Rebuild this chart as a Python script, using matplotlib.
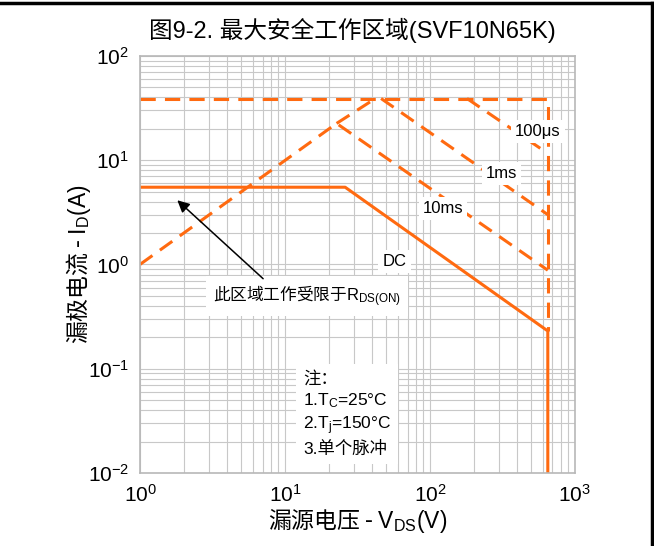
import matplotlib.pyplot as plt
from matplotlib.lines import Line2D

plt.rcParams['font.family'] = ['Liberation Sans', 'Noto Sans CJK SC']
plt.rcParams['mathtext.fontset'] = 'custom'
plt.rcParams['mathtext.rm'] = 'Liberation Sans'
plt.rcParams['mathtext.it'] = 'Liberation Sans'
plt.rcParams['axes.unicode_minus'] = False

ORANGE = "#ff6a10"
CJK = "Noto Sans CJK SC"

# SOA curves (V_DS in V, I_D in A)
dc_v = [1, 26, 650, 650]
dc_i = [5.5, 5.5, 0.23, 0.01]

ms10_v = [1, 22.7, 650]
ms10_i = [1.0, 22.5, 0.88]

rds_v = [22.7, 42]          # R_DS(on) limit continues up to I_DM
rds_i = [22.5, 39]

ms1_v = [46, 650]
ms1_i = [39, 3.0]

us100_v = [180, 650]
us100_i = [39, 11.6]

idm_v = [1, 650, 650]       # pulsed current limit + V_DSS limit
idm_i = [39, 39, 0.23]

fig = plt.figure(figsize=(6.54, 5.46), dpi=100)
ax = fig.add_axes([0.2141, 0.1337, 0.665, 0.764])

ax.set_xscale("log")
ax.set_yscale("log")
ax.set_xlim(1, 1000)
ax.set_ylim(0.01, 100)

ax.grid(which="both", color="#c8c8c8", linewidth=0.8)
ax.set_axisbelow(True)
for s in ax.spines.values():
    s.set_color("#b8b8b8")
    s.set_linewidth(1.2)
ax.tick_params(which="both", length=0, labelsize=15, pad=8)

dash = (0, (5, 3))
lw = 2.2
ax.plot(idm_v, idm_i, color=ORANGE, lw=lw, ls=dash)
ax.plot(ms10_v, ms10_i, color=ORANGE, lw=lw, ls=dash)
ax.plot(rds_v, rds_i, color=ORANGE, lw=lw, ls=dash)
ax.plot(ms1_v, ms1_i, color=ORANGE, lw=lw, ls=dash)
ax.plot(us100_v, us100_i, color=ORANGE, lw=lw, ls=dash)
ax.plot(dc_v, dc_i, color=ORANGE, lw=lw, solid_capstyle="butt")

box = dict(facecolor="white", edgecolor="none", pad=3)
ax.text(556, 18.7, "100μs", fontsize=12, ha="center", va="center", bbox=box)
ax.text(312, 7.4, "1ms", fontsize=12, ha="center", va="center", bbox=box)
ax.text(123, 3.45, "10ms", fontsize=12, ha="center", va="center", bbox=box)
ax.text(57, 1.06, "DC", fontsize=12, ha="center", va="center", bbox=box)
ax.text(14.1, 0.50, "此区域工作受限于$\\mathrm{R_{DS(ON)}}$", fontsize=12,
        family=CJK, ha="center", va="center",
        bbox=dict(facecolor="white", edgecolor="none", pad=5))
ax.annotate("", xy=(1.75, 4.3), xytext=(7.3, 0.7),
            arrowprops=dict(arrowstyle="-|>", color="black", lw=1.1,
                            mutation_scale=18))

note = ("注：\n1.T$_{\\mathrm{C}}$=25°C\n2.T$_{\\mathrm{j}}$=150°C\n3.单个脉冲")
ax.text(13.3, 0.095, note, fontsize=12.5, ha="left", va="top",
        linespacing=1.3, bbox=dict(facecolor="white", edgecolor="none", pad=5))

ax.set_xlabel("漏源电压 - $\\mathrm{V_{DS}(V)}$", fontsize=16.5, family=CJK,
              labelpad=0)
ax.set_ylabel("漏极电流 - $\\mathrm{I_{D}(A)}$", fontsize=16.5, family=CJK,
              labelpad=-4)
fig.text(0.539, 0.945, "图9-2. 最大安全工作区域(SVF10N65K)", fontsize=17,
         ha="center", va="center")

# frame of the original picture (top and right edges)
fig.add_artist(Line2D([0, 0.997], [0.995, 0.995], color="black", lw=2.5,
                      transform=fig.transFigure))
fig.add_artist(Line2D([0.997, 0.997], [0, 0.995], color="black", lw=2.5,
                      transform=fig.transFigure))

fig.savefig("out.png", dpi=100)
